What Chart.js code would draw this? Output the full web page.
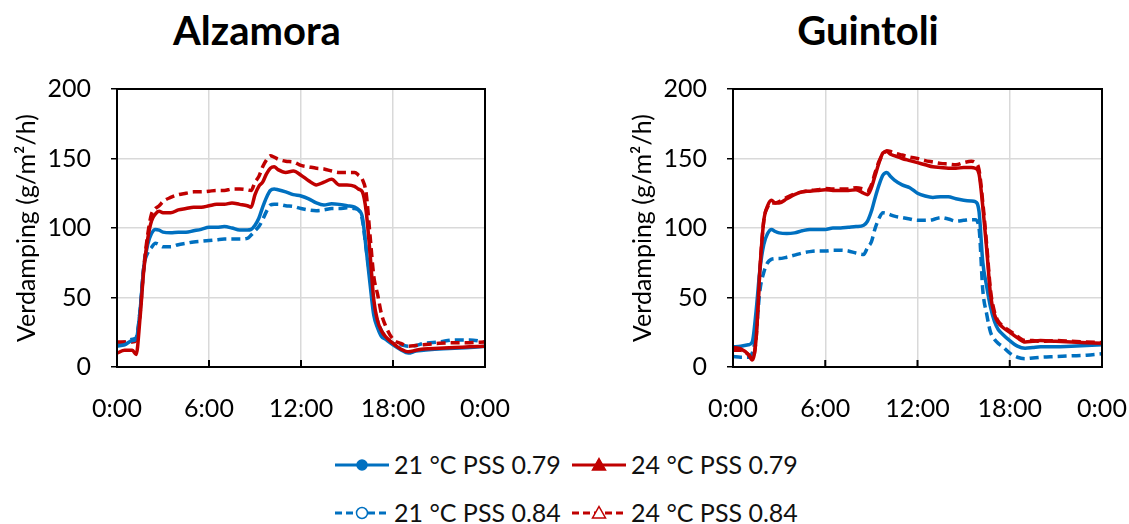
<!DOCTYPE html>
<html lang="nl">
<head>
  <meta charset="UTF-8">
  <title>Verdamping</title>
  <style>
    body {
      margin: 0;
      background: #fff;
      font-family: Lato, "Noto Sans", sans-serif;
    }
    .wrap {
      position: relative;
      width: 1129px;
      height: 524px;
      overflow: hidden;
    }
    .chart {
      position: absolute;
      top: 0;
      height: 440px;
    }
    .title {
      position: absolute;
      top: 5px;
      width: 300px;
      margin-left: -150px;
      text-align: center;
      font-size: 40px;
      line-height: 50px;
      font-weight: bold;
      color: #000;
    }
    .sym {
      position: absolute;
      width: 54px;
      height: 28px;
    }
    .ltext {
      position: absolute;
      font-size: 25px;
      line-height: 30px;
      color: #111;
      white-space: nowrap;
    }
  </style>
</head>
<body>
<div class="wrap">
  <div class="title" style="left:257px">Alzamora</div>
  <div class="title" style="left:868px">Guintoli</div>
  <div class="chart" style="left:0; width:512px"><canvas id="alz" width="512" height="440"></canvas></div>
  <div class="chart" style="left:616px; width:513px"><canvas id="gui" width="513" height="440"></canvas></div>
  <div id="legend"></div>
</div>

<script src="https://cdn.jsdelivr.net/npm/chart.js"></script>
<script>
// tijd van de dag in uren
const hours = [0, 0.5, 1, 1.25, 1.5, 1.75, 2, 2.25, 2.5, 2.75, 3, 3.5, 4, 4.5, 5, 5.5, 6, 6.5, 7, 7.5, 8, 8.5, 8.75,
  9, 9.25, 9.5, 9.75, 10, 10.25, 10.5, 11, 11.5, 12, 12.5, 13, 13.5, 14, 14.5, 15, 15.5, 15.75,
  16, 16.25, 16.5, 16.75, 17, 17.25, 17.5, 18, 18.5, 19, 19.5, 20, 21, 22, 23, 24];

const seriesNames = ['21 °C PSS 0.79', '24 °C PSS 0.79', '21 °C PSS 0.84', '24 °C PSS 0.84'];
const yTicks = [0, 50, 100, 150, 200];
const xTicks = [0, 6, 12, 18, 24];

// Alzamora
const alz21a = [15, 16, 19, 20, 40, 72, 88, 96, 99, 98.5, 97, 96.5, 97, 97, 98, 99, 100.5, 100.5, 101, 100, 98.5, 98.5, 99,
  102, 107, 115, 122, 127, 128, 127.5, 126, 124, 123, 121, 118, 116.5, 117.5, 117, 116, 115, 113,
  108, 85, 60, 37, 28, 22, 20, 16, 12.5, 10, 11.5, 12, 13, 13.5, 14, 15];
const alz24a = [10, 12, 12, 9, 35, 70, 92, 105, 110, 112, 111, 111, 113, 114, 115, 115, 116, 117, 117, 118, 117, 116, 115,
  124, 130, 133, 139, 143, 144, 142, 140, 141, 138, 134, 131, 133, 135, 131, 131, 130, 128,
  126, 112, 82, 48, 33, 26, 22, 17, 13, 11, 12, 13, 13.5, 14, 14.5, 15];
const alz21b = [17, 18, 20, 21, 40, 72, 82, 86, 89, 88, 86.5, 86.5, 88, 89, 90, 90.5, 91, 91.5, 92, 92, 92, 92.5, 95,
  98, 101, 106, 112, 116.5, 117, 117, 116, 115.5, 114, 113, 112.5, 113, 114, 114, 114.5, 114, 113,
  106, 85, 65, 42, 33, 26, 22, 17, 16, 15, 15.5, 17, 18, 19.5, 19.5, 18];
const alz24b = [18, 18, 18, 19, 38, 72, 95, 110, 114, 116, 119, 122, 124, 125, 126, 126, 126.5, 127, 127, 128, 128, 127.5, 127,
  133, 137, 144, 149, 152, 151, 149.5, 148, 147.5, 145, 144, 143, 142.5, 141, 140, 140, 140, 138,
  135, 125, 95, 65, 52, 38, 30, 20, 17, 15, 15.5, 16, 17, 17.5, 17.5, 18];

// Guintoli
const gui21a = [14.5, 15, 16, 18, 40, 70, 88, 96, 99, 97.5, 96.5, 96, 96.5, 98, 99, 99, 99, 100, 100, 100.5, 101, 102, 105,
  112, 122, 131, 138, 140, 137, 134.5, 131, 129, 125, 123, 122, 122.5, 122.5, 121, 120, 119.5, 119,
  112, 75, 58, 43, 33, 27, 24, 19, 15, 13.5, 14, 14.5, 14.5, 15, 15.5, 16];
const gui24a = [14, 13, 9, 5, 20, 70, 105, 116, 120, 118, 118, 121, 124, 126, 126.5, 127, 127.5, 127, 127, 127, 127.5, 125, 124,
  129, 138, 147, 154, 155, 153, 152, 150, 148.5, 147, 145.5, 144, 143.5, 143, 143, 143.5, 143.5, 143,
  139, 115, 85, 52, 38, 32, 29, 25, 21, 18, 18.5, 19, 18.5, 18, 17.5, 17];
const gui21b = [7.5, 7, 7, 10, 24, 55, 68, 75, 77.5, 78, 78, 79, 80.5, 82, 83, 83.5, 83.5, 84, 84, 83.5, 82, 81, 86,
  90, 100, 107, 111, 110.5, 109.5, 108.5, 107.5, 106.5, 105.5, 105.5, 106, 107.5, 106.5, 105, 105.5, 106, 106,
  100, 55, 38, 25, 20, 17, 15, 10, 7, 6, 6.5, 7, 7.5, 8, 8.5, 9.5];
const gui24b = [12, 12, 9, 6, 20, 70, 105, 115, 118, 118, 119, 122, 124.5, 126, 127, 127.5, 128.5, 128, 128, 128, 129, 128, 127,
  131, 140, 148, 153, 155.5, 155, 154, 152.5, 151, 150, 148.5, 147.5, 146.5, 146, 145.5, 147, 148, 147,
  142, 118, 88, 55, 40, 33, 30, 26, 22, 19, 19, 18.5, 19, 18.5, 18, 17.5];

const BLUE = '#0070C0';
const RED = '#C00000';
const FONT = 'Lato, "Noto Sans", sans-serif';

function pts(values) {
  return hours.map((h, i) => ({ x: h, y: values[i] }));
}

function lineSet(label, values, color, dashed) {
  return {
    label: label,
    data: pts(values),
    borderColor: color,
    borderWidth: 3.5,
    borderDash: dashed ? [9, 5] : [],
    pointRadius: 0,
    cubicInterpolationMode: 'monotone',
    fill: false
  };
}

// zwart kader + tickjes aan de binnenkant van de x-as
const framePlugin = {
  id: 'frame',
  afterDatasetsDraw(chart) {
    const a = chart.chartArea;
    const ctx = chart.ctx;
    const xs = chart.scales.x;
    ctx.save();
    ctx.strokeStyle = '#000';
    ctx.lineWidth = 2;
    ctx.strokeRect(a.left, a.top, a.right - a.left, a.bottom - a.top);
    ctx.beginPath();
    xTicks.forEach(t => {
      const px = xs.getPixelForValue(t);
      ctx.moveTo(px, a.bottom);
      ctx.lineTo(px, a.bottom - 7);
    });
    ctx.stroke();
    ctx.restore();
  }
};

function makeChart(id, sets) {
  new Chart(document.getElementById(id), {
    type: 'line',
    data: { datasets: sets },
    plugins: [framePlugin],
    options: {
      responsive: false,
      animation: false,
      events: [],
      layout: { padding: { top: 89, right: 27, left: 0, bottom: 0 } },
      plugins: { legend: { display: false }, tooltip: { enabled: false } },
      scales: {
        x: {
          type: 'linear',
          min: 0,
          max: 24,
          afterBuildTicks: s => { s.ticks = xTicks.map(v => ({ value: v })); },
          afterFit: s => { s.height = 73; s.paddingLeft = 0; s.paddingRight = 0; },
          ticks: {
            color: '#000',
            padding: 27,
            maxRotation: 0,
            font: { family: FONT, size: 25 },
            callback: v => (v % 24) + ':00'
          },
          grid: { color: '#d9d9d9', lineWidth: 1.5, drawTicks: false },
          border: { display: false }
        },
        y: {
          min: 0,
          max: 200,
          afterBuildTicks: s => { s.ticks = yTicks.map(v => ({ value: v })); },
          afterFit: s => { s.width = 117; s.paddingTop = 0; s.paddingBottom = 0; },
          ticks: {
            color: '#000',
            padding: 20,
            font: { family: FONT, size: 25 }
          },
          grid: { color: '#d9d9d9', lineWidth: 1.5, tickColor: '#000', tickLength: 6, tickWidth: 1.5 },
          border: { display: false },
          title: {
            display: true,
            text: 'Verdamping (g/m²/h)',
            color: '#000',
            font: { family: FONT, size: 25 },
            padding: { top: 12, bottom: 0 }
          }
        }
      }
    }
  });
}

makeChart('alz', [
  lineSet(seriesNames[1], alz24a, RED, false),
  lineSet(seriesNames[0], alz21a, BLUE, false),
  lineSet(seriesNames[3], alz24b, RED, true),
  lineSet(seriesNames[2], alz21b, BLUE, true)
]);
makeChart('gui', [
  lineSet(seriesNames[1], gui24a, RED, false),
  lineSet(seriesNames[0], gui21a, BLUE, false),
  lineSet(seriesNames[3], gui24b, RED, true),
  lineSet(seriesNames[2], gui21b, BLUE, true)
]);

// legenda met lijntje + marker
function symbol(color, dashed, shape, filled) {
  const dash = dashed ? ' stroke-dasharray="7 4"' : '';
  const fill = filled ? color : '#fff';
  let marker;
  if (shape === 'circle') {
    marker = `<circle cx="27" cy="14" r="${filled ? 5 : 5.5}" fill="${fill}" stroke="${color}" stroke-width="1.5"/>`;
  } else {
    marker = `<polygon points="27,7.5 33.5,19 20.5,19" fill="${fill}" stroke="${color}" stroke-width="1.5"/>`;
  }
  return `<svg width="54" height="28"><line x1="0" y1="14" x2="54" y2="14" stroke="${color}" stroke-width="3"${dash}/>${marker}</svg>`;
}
const legendItems = [
  { name: seriesNames[0], color: BLUE, dashed: false, shape: 'circle', filled: true, x: 335, y: 465 },
  { name: seriesNames[1], color: RED, dashed: false, shape: 'triangle', filled: true, x: 572, y: 465 },
  { name: seriesNames[2], color: BLUE, dashed: true, shape: 'circle', filled: false, x: 335, y: 513 },
  { name: seriesNames[3], color: RED, dashed: true, shape: 'triangle', filled: false, x: 572, y: 513 }
];
document.getElementById('legend').innerHTML = legendItems.map(it =>
  `<div class="sym" style="left:${it.x}px;top:${it.y - 14}px">${symbol(it.color, it.dashed, it.shape, it.filled)}</div>` +
  `<div class="ltext" style="left:${it.x + 59}px;top:${it.y - 16}px">${it.name}</div>`
).join('');
</script>
</body>
</html>
